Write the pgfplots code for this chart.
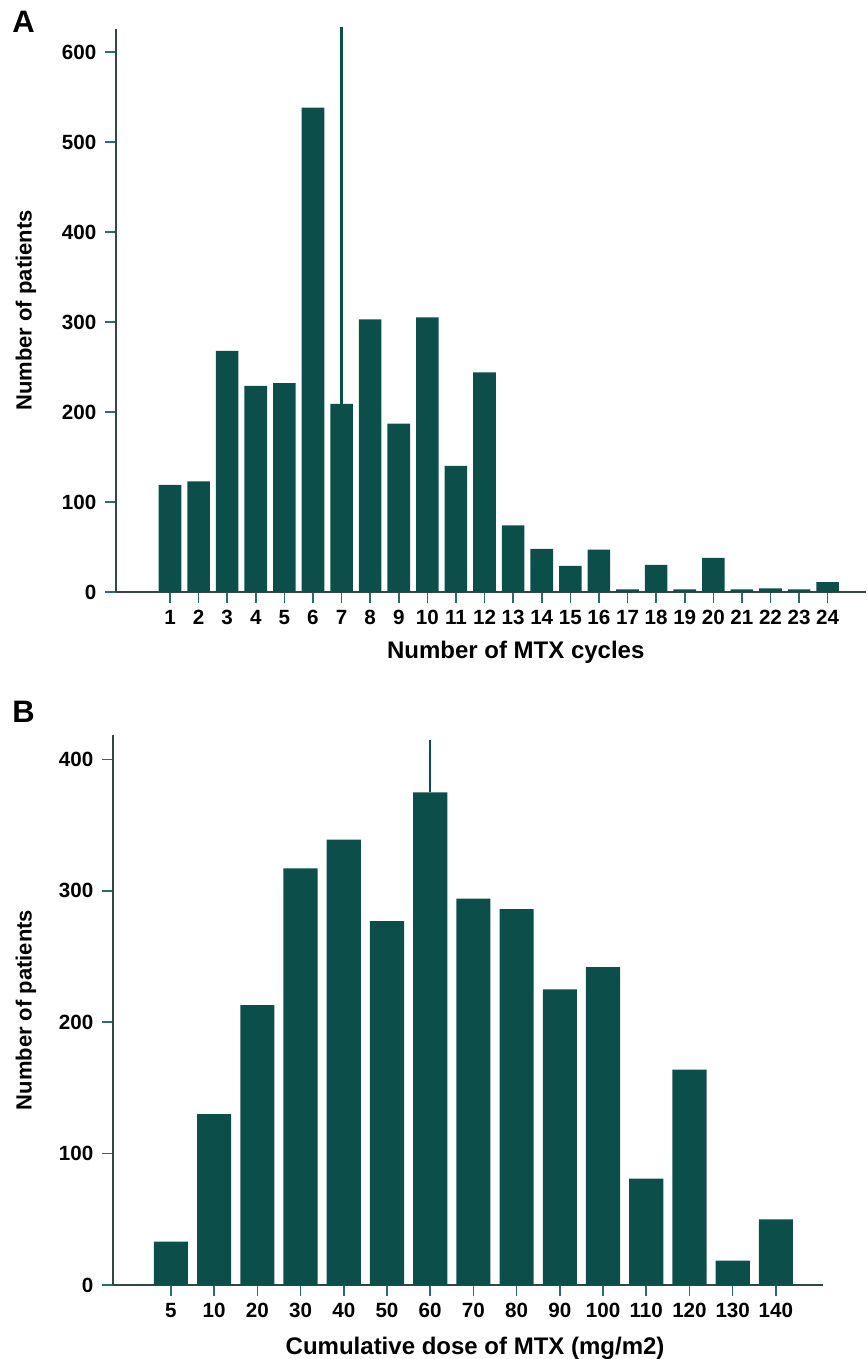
\documentclass[border=0pt]{standalone}
\usepackage{fontspec}
\setmainfont{Liberation Sans}
\usepackage{pgfplots}
\pgfplotsset{compat=1.18}
\definecolor{barcol}{RGB}{12,79,74}
\definecolor{axcol}{RGB}{50,70,68}
\definecolor{tickcol}{RGB}{40,110,106}
\pgfplotsset{
  mystyle/.style={
    scale only axis,
    anchor=south west,
    ymin=0,
    axis x line*=bottom, axis y line*=left,
    axis line style={axcol, line width=0.7pt, -},
    clip=false,
    tick align=outside, major tick length=5.5pt,
    tick style={tickcol, line width=0.8pt},
    ticklabel style={font=\bfseries\fontsize{10.3}{12}\selectfont},
    yticklabel style={xshift=-0.8pt},
    /pgf/number format/assume math mode=true,
    ylabel style={font=\bfseries\fontsize{11}{13}\selectfont, anchor=center},
    xlabel style={font=\bfseries\fontsize{12}{14}\selectfont, anchor=base},
  }
}
\begin{document}
\begin{tikzpicture}
\path[use as bounding box] (0pt,0pt) rectangle (433.5pt,679.5pt);
\node[font=\bfseries\fontsize{15.5}{18}\selectfont, anchor=base west, inner sep=0] at (6.0pt,663pt) {A};
\node[font=\bfseries\fontsize{15.5}{18}\selectfont, anchor=base west, inner sep=0] at (6.0pt,318pt) {B};

\begin{axis}[mystyle,
  at={(58pt,383.5pt)}, width=375pt, height=281.5pt,
  xmin=-0.888, xmax=25.34, ymax=625.5,
  ytick={0,100,...,600},
  xtick={1,...,24},
  ylabel={Number of patients},
  ylabel style={at={(axis description cs:-0.12,0.5)}},
  xlabel={Number of MTX cycles},
  xlabel style={at={(axis description cs:0.533,-0.119)}},
]
\addplot[ybar, bar width=0.79, fill=barcol, draw=none] coordinates {
(1,119) (2,123) (3,268) (4,229) (5,232) (6,538) (7,209) (8,303)
(9,187) (10,305) (11,140) (12,244) (13,74) (14,48) (15,29) (16,47)
(17,3) (18,30) (19,3) (20,38) (21,3) (22,4) (23,3) (24,11)};
\addplot[barcol, line width=1.2pt] coordinates {(7,209) (7,628)};
\end{axis}

\begin{axis}[mystyle,
  at={(56.5pt,37pt)}, width=355pt, height=275pt,
  xmin=-1.34, xmax=15.09, ymax=418.6,
  ytick={0,100,...,400},
  xtick={0,...,14},
  xticklabels={5,10,20,30,40,50,60,70,80,90,100,110,120,130,140},
  ylabel={Number of patients},
  ylabel style={at={(axis description cs:-0.1225,0.5)}},
  xlabel={Cumulative dose of MTX (mg/m2)},
  xlabel style={at={(axis description cs:0.51,-0.1255)}},
]
\addplot[ybar, bar width=0.79, fill=barcol, draw=none] coordinates {
(0,33) (1,130) (2,213) (3,317) (4,339) (5,277) (6,375) (7,294)
(8,286) (9,225) (10,242) (11,81) (12,164) (13,18.5) (14,50)};
\addplot[barcol, line width=1.2pt] coordinates {(6,375) (6,415)};
\end{axis}
\end{tikzpicture}
\end{document}
